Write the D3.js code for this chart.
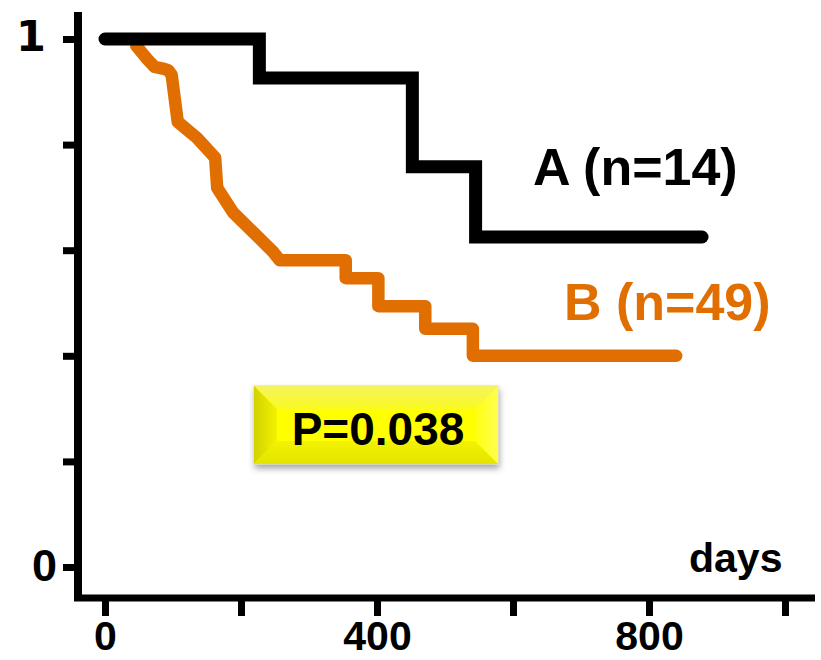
<!DOCTYPE html>
<html>
<head>
<meta charset="utf-8">
<script src="https://cdn.jsdelivr.net/npm/d3@7"></script>
<style>
  html, body { margin: 0; padding: 0; background: #fff; }
  svg { display: block; }
  text { font-family: "Liberation Sans", Arial, sans-serif; font-weight: bold; }
</style>
</head>
<body>
<svg id="chart" width="821" height="660"></svg>
<script>
// ---- data ----
const xTicks = [0, 200, 400, 600, 800, 1000];
const xTickLabels = ["0", "", "400", "", "800", ""];
const yTicks = [0, 0.2, 0.4, 0.6, 0.8, 1];
const yTickLabels = ["0", "", "", "", "", "1"];

// Group A (Kaplan-Meier step data)
const aTimes = [0, 227, 452, 545, 878];
const aSurv  = [1, 0.926, 0.758, 0.625, 0.625];

// Group B (traced outline, corners included)
const bTimes = [46, 62, 73, 85, 93, 98, 107, 135, 162, 165, 188, 218, 247, 257, 354, 354, 402, 402, 471, 471, 541, 541, 840];
const bSurv  = [0.987, 0.962, 0.947, 0.944, 0.941, 0.932, 0.843, 0.813, 0.775, 0.718, 0.672, 0.634, 0.597, 0.581, 0.581, 0.547, 0.547, 0.494, 0.494, 0.451, 0.451, 0.400, 0.400];

const seriesLabels = ["A (n=14)", "B (n=49)"];
const pLabel = "P=0.038";
const xAxisTitle = "days";

// ---- drawing ----
const svg = d3.select("#chart");
const black = "#000000";
const orange = "#E06E00";

const x = d3.scaleLinear().domain([0, 1000]).range([105, 785]);
const y = d3.scaleLinear().domain([0, 1]).range([567, 39]);

// defs: drop shadow + gradients for the bevelled box
const defs = svg.append("defs");
const f = defs.append("filter").attr("id", "shadow").attr("x", "-10%").attr("y", "-20%").attr("width", "130%").attr("height", "160%");
f.append("feDropShadow").attr("dx", 1).attr("dy", 4).attr("stdDeviation", 3)
  .attr("flood-color", "#000").attr("flood-opacity", 0.35);
const gl = defs.append("linearGradient").attr("id", "gLeft").attr("x1", 0).attr("x2", 1).attr("y1", 0).attr("y2", 0);
gl.append("stop").attr("offset", "0%").attr("stop-color", "#D2D200");
gl.append("stop").attr("offset", "100%").attr("stop-color", "#F2F200");
const gr = defs.append("linearGradient").attr("id", "gRight").attr("x1", 0).attr("x2", 1).attr("y1", 0).attr("y2", 0);
gr.append("stop").attr("offset", "0%").attr("stop-color", "#FFFF10");
gr.append("stop").attr("offset", "100%").attr("stop-color", "#FFFF50");
const gt = defs.append("linearGradient").attr("id", "gTop").attr("x1", 0).attr("x2", 0).attr("y1", 0).attr("y2", 1);
gt.append("stop").attr("offset", "0%").attr("stop-color", "#F4F460");
gt.append("stop").attr("offset", "100%").attr("stop-color", "#FAFA20");
const gb = defs.append("linearGradient").attr("id", "gBot").attr("x1", 0).attr("x2", 0).attr("y1", 0).attr("y2", 1);
gb.append("stop").attr("offset", "0%").attr("stop-color", "#F2F200");
gb.append("stop").attr("offset", "100%").attr("stop-color", "#E4E400");

// axes
const yAxis = d3.axisLeft(y).tickValues(yTicks).tickSize(15).tickSizeOuter(0)
  .tickFormat((d, i) => yTickLabels[i]);
const gy = svg.append("g").attr("transform", "translate(78,0)").call(yAxis);
gy.select(".domain").remove();
gy.selectAll(".tick line").attr("stroke", black).attr("stroke-width", 7);
gy.selectAll(".tick text").attr("font-size", 45).attr("fill", black)
  .attr("x", -21).attr("dy", "0.3em");
gy.selectAll(".tick text").filter(d => d === 1)
  .style("font-family", "'DejaVu Sans', sans-serif")
  .attr("font-size", 43).attr("text-anchor", "middle").attr("x", -47).attr("dy", "0.27em");

const xAxis = d3.axisBottom(x).tickValues(xTicks).tickSize(18).tickSizeOuter(0).tickPadding(5)
  .tickFormat((d, i) => xTickLabels[i]);
const gx = svg.append("g").attr("transform", "translate(0,598)").call(xAxis);
gx.select(".domain").remove();
gx.selectAll(".tick line").attr("stroke", black).attr("stroke-width", 7);
gx.selectAll(".tick text").attr("font-size", 41).attr("fill", black);

// axis lines
svg.append("line").attr("x1", 78).attr("x2", 78).attr("y1", 12).attr("y2", 601)
  .attr("stroke", black).attr("stroke-width", 8);
svg.append("line").attr("x1", 74).attr("x2", 815).attr("y1", 598).attr("y2", 598)
  .attr("stroke", black).attr("stroke-width", 7);

// curves
const lineB = d3.line().x(d => x(d[0])).y(d => y(d[1])).curve(d3.curveLinear);
const lineA = d3.line().x(d => x(d[0])).y(d => y(d[1])).curve(d3.curveStepAfter);

svg.append("path").datum(d3.zip(bTimes, bSurv)).attr("d", lineB)
  .attr("fill", "none").attr("stroke", orange).attr("stroke-width", 12.5)
  .attr("stroke-linecap", "round").attr("stroke-linejoin", "round");
svg.append("path").datum(d3.zip(aTimes, aSurv)).attr("d", lineA)
  .attr("fill", "none").attr("stroke", black).attr("stroke-width", 13)
  .attr("stroke-linecap", "round").attr("stroke-linejoin", "miter");

// series labels
svg.append("text").attr("x", 533).attr("y", 185).attr("font-size", 52).attr("fill", black).text(seriesLabels[0]);
svg.append("text").attr("x", 564).attr("y", 320).attr("font-size", 52).attr("fill", orange).text(seriesLabels[1]);

// x axis title
svg.append("text").attr("x", 689).attr("y", 572).attr("font-size", 41).attr("fill", black).text(xAxisTitle);

// P value box (bevelled yellow)
const bx = 254, by = 386, bw = 244, bh = 78, bd = 23;
const box = svg.append("g").attr("filter", "url(#shadow)");
box.append("rect").attr("x", bx).attr("y", by).attr("width", bw).attr("height", bh).attr("fill", "#FFFF00")
  .attr("stroke", "#D8D8B0").attr("stroke-width", 1);
const pts = (arr) => arr.map(p => p.join(",")).join(" ");
box.append("polygon").attr("points", pts([[bx, by], [bx + bw, by], [bx + bw - bd, by + bd], [bx + bd, by + bd]])).attr("fill", "url(#gTop)");
box.append("polygon").attr("points", pts([[bx, by], [bx + bd, by + bd], [bx + bd, by + bh - bd], [bx, by + bh]])).attr("fill", "url(#gLeft)");
box.append("polygon").attr("points", pts([[bx + bw, by], [bx + bw, by + bh], [bx + bw - bd, by + bh - bd], [bx + bw - bd, by + bd]])).attr("fill", "url(#gRight)");
box.append("polygon").attr("points", pts([[bx, by + bh], [bx + bd, by + bh - bd], [bx + bw - bd, by + bh - bd], [bx + bw, by + bh]])).attr("fill", "url(#gBot)");
box.append("rect").attr("x", bx + bd).attr("y", by + bd).attr("width", bw - 2 * bd).attr("height", bh - 2 * bd).attr("fill", "#FFFF00");
svg.append("text").attr("x", bx + bw / 2 + 2).attr("y", 445).attr("text-anchor", "middle")
  .attr("font-size", 46).attr("fill", black).text(pLabel);
</script>
</body>
</html>
